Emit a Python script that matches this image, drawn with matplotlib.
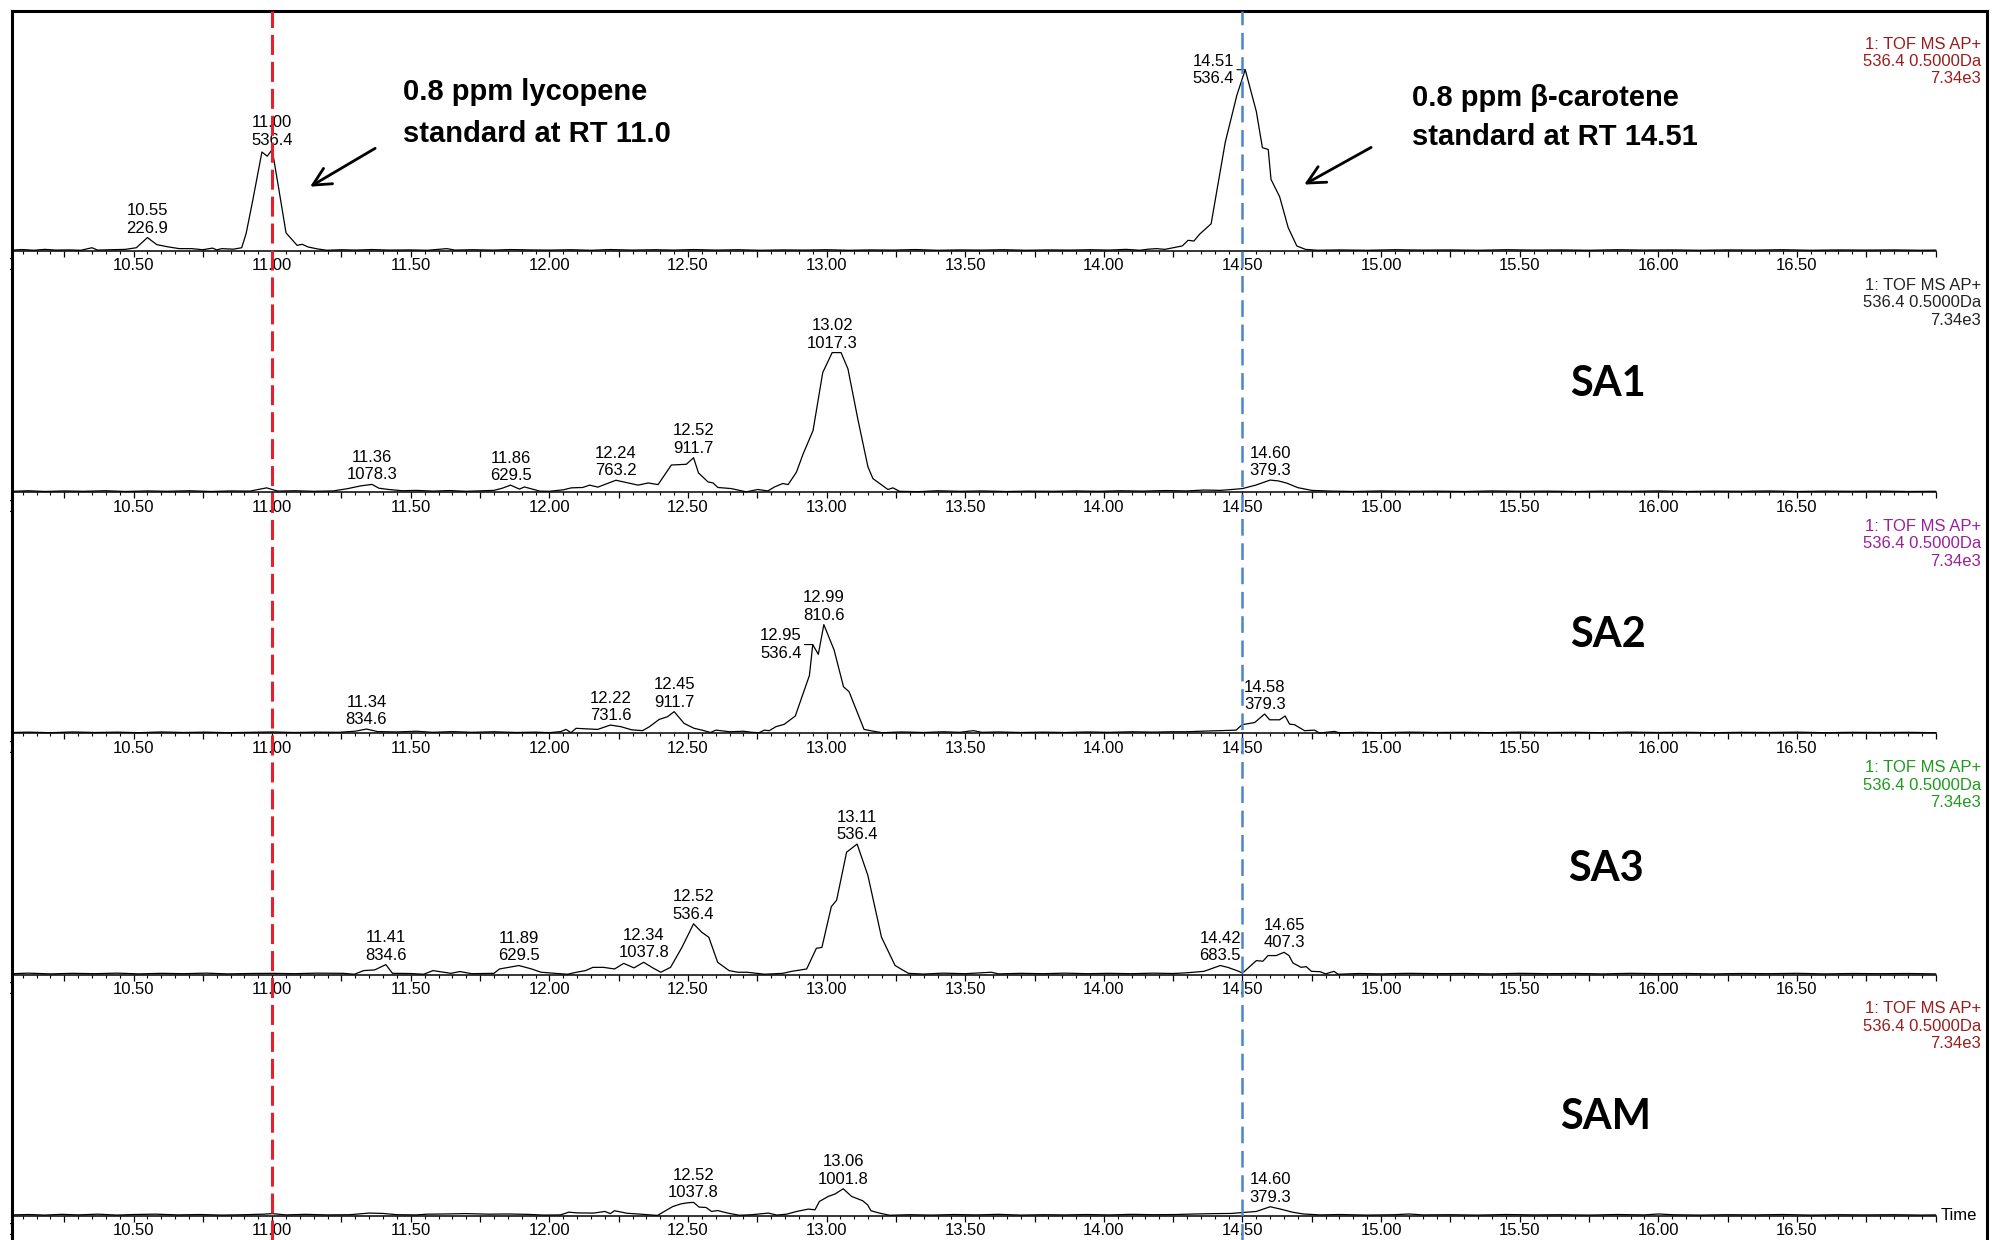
import numpy as np
import matplotlib
matplotlib.use('Agg')
import matplotlib.pyplot as plt
from matplotlib.lines import Line2D
from matplotlib.ticker import MultipleLocator, FuncFormatter
from matplotlib.transforms import Bbox, TransformedBbox

plt.rcParams['font.family'] = ['Liberation Sans', 'DejaVu Sans']
plt.rcParams['lines.scale_dashes'] = False

# extracted ion chromatograms, m/z 536.4 ± 0.5 Da
# retention time (min) and intensity (% of 7.34e3)
rt_std = [10.064, 10.10, 10.14, 10.18, 10.22, 10.27, 10.31, 10.35, 10.37, 10.42,
          10.47, 10.51, 10.55, 10.584, 10.62, 10.665, 10.71, 10.75, 10.785, 10.80,
          10.818, 10.86, 10.89, 10.906, 10.93, 10.963, 10.982, 11.00, 11.023, 11.05,
          11.09, 11.108, 11.13, 11.165, 11.197, 11.25, 11.30, 11.36, 11.42, 11.50,
          11.56, 11.63, 11.66, 11.72, 11.80, 11.86, 11.93, 12.00, 12.08, 12.15,
          12.22, 12.30, 12.38, 12.45, 12.52, 12.60, 12.68, 12.76, 12.84, 12.92,
          13.00, 13.08, 13.16, 13.24, 13.32, 13.40, 13.48, 13.56, 13.64, 13.72,
          13.80, 13.88, 13.95, 14.02, 14.08, 14.13, 14.16, 14.19, 14.22, 14.25,
          14.283, 14.304, 14.325, 14.345, 14.387, 14.438, 14.48, 14.51, 14.55, 14.572,
          14.593, 14.603, 14.634, 14.665, 14.696, 14.727, 14.77, 14.85, 14.95, 15.05,
          15.15, 15.25, 15.35, 15.45, 15.55, 15.65, 15.75, 15.85, 15.95, 16.05,
          16.15, 16.25, 16.35, 16.45, 16.55, 16.65, 16.75, 16.85, 16.95, 17.00]
int_std = [0.5, 0.8, 0.4, 0.9, 0.5, 0.6, 0.4, 1.8, 0.5, 0.7,
           0.9, 1.8, 7.4, 3.5, 2.4, 1.3, 1.3, 0.7, 1.6, 0.6,
           1.3, 1.0, 1.8, 9.6, 28.0, 54.6, 52.3, 55.9, 35.0, 10.0,
           3.1, 3.7, 2.2, 1.1, 0.4, 0.7, 0.5, 0.8, 0.5, 0.6,
           0.4, 1.3, 0.5, 0.7, 0.5, 0.8, 0.6, 0.5, 0.7, 0.4,
           0.8, 0.5, 0.7, 0.5, 0.8, 0.5, 0.7, 0.4, 0.6, 0.5,
           0.7, 0.4, 0.6, 0.5, 0.8, 0.4, 0.6, 0.5, 0.7, 0.4,
           0.6, 0.5, 0.7, 0.5, 0.9, 0.4, 1.0, 1.3, 0.9, 1.8,
           2.8, 5.9, 5.5, 9.2, 15.0, 60.0, 86.0, 100.0, 77.0, 57.0,
           56.0, 39.5, 30.0, 12.9, 2.8, 0.9, 0.4, 0.6, 0.4, 0.7,
           0.5, 0.6, 0.4, 0.7, 0.5, 0.6, 0.4, 0.7, 0.5, 0.6,
           0.4, 0.6, 0.5, 0.7, 0.4, 0.6, 0.5, 0.6, 0.4, 0.5]

rt_sa1 = [10.064, 10.12, 10.18, 10.25, 10.32, 10.40, 10.47, 10.55, 10.62, 10.70,
          10.78, 10.85, 10.92, 10.98, 11.02, 11.08, 11.15, 11.22, 11.27, 11.32,
          11.36, 11.385, 11.42, 11.47, 11.52, 11.58, 11.64, 11.70, 11.76, 11.80,
          11.83, 11.86, 11.892, 11.91, 11.965, 12.00, 12.05, 12.079, 12.12, 12.145,
          12.175, 12.24, 12.32, 12.356, 12.392, 12.44, 12.494, 12.52, 12.538, 12.572,
          12.59, 12.608, 12.656, 12.692, 12.71, 12.752, 12.788, 12.812, 12.842, 12.861,
          12.891, 12.915, 12.951, 12.986, 13.02, 13.052, 13.077, 13.113, 13.149, 13.167,
          13.221, 13.239, 13.263, 13.33, 13.40, 13.48, 13.56, 13.65, 13.73, 13.82,
          13.90, 13.98, 14.06, 14.14, 14.22, 14.30, 14.36, 14.42, 14.47, 14.50,
          14.55, 14.60, 14.63, 14.66, 14.70, 14.75, 14.82, 14.90, 15.00, 15.10,
          15.20, 15.30, 15.40, 15.50, 15.60, 15.70, 15.80, 15.90, 16.00, 16.10,
          16.20, 16.30, 16.40, 16.50, 16.60, 16.70, 16.80, 16.90, 17.00]
int_sa1 = [0.5, 0.8, 0.4, 0.7, 0.5, 0.8, 0.4, 0.7, 0.5, 0.8,
           0.4, 0.7, 0.6, 2.4, 0.6, 0.8, 0.5, 0.7, 1.9, 3.5,
           4.3, 2.2, 1.5, 0.8, 1.0, 0.6, 0.9, 0.5, 0.8, 1.0,
           2.2, 3.9, 1.7, 2.9, 0.6, 0.5, 1.3, 2.4, 2.6, 3.9,
           2.8, 6.6, 3.9, 5.1, 4.2, 15.0, 15.4, 19.0, 10.6, 5.7,
           5.1, 2.6, 2.0, 0.8, 0.2, 1.5, 0.7, 2.9, 4.8, 4.2,
           11.0, 21.0, 34.0, 66.0, 77.0, 77.0, 68.0, 40.0, 14.0, 7.5,
           1.5, 2.4, 0.5, 0.3, 0.8, 0.5, 0.7, 0.4, 0.6, 0.5,
           0.7, 0.5, 0.8, 0.6, 0.9, 0.7, 1.2, 1.0, 1.6, 2.0,
           4.0, 6.7, 6.2, 5.0, 2.5, 1.0, 0.6, 0.4, 0.7, 0.5,
           0.6, 0.4, 0.7, 0.5, 0.6, 0.4, 0.6, 0.5, 0.7, 0.4,
           0.6, 0.5, 0.7, 0.4, 0.6, 0.5, 0.6, 0.4, 0.5]

rt_sa2 = [10.064, 10.12, 10.20, 10.28, 10.36, 10.44, 10.52, 10.60, 10.68, 10.76,
          10.84, 10.92, 11.00, 11.08, 11.16, 11.24, 11.30, 11.34, 11.38, 11.45,
          11.52, 11.58, 11.65, 11.72, 11.80, 11.88, 11.95, 12.00, 12.041, 12.06,
          12.078, 12.096, 12.174, 12.22, 12.258, 12.296, 12.336, 12.361, 12.396, 12.426,
          12.45, 12.486, 12.522, 12.551, 12.581, 12.601, 12.651, 12.70, 12.73, 12.757,
          12.775, 12.793, 12.817, 12.847, 12.887, 12.938, 12.95, 12.97, 12.99, 13.027,
          13.061, 13.081, 13.135, 13.165, 13.20, 13.27, 13.35, 13.42, 13.48, 13.53,
          13.56, 13.62, 13.70, 13.78, 13.86, 13.94, 14.02, 14.10, 14.18, 14.24,
          14.297, 14.35, 14.417, 14.477, 14.499, 14.544, 14.58, 14.598, 14.634, 14.654,
          14.67, 14.688, 14.724, 14.76, 14.778, 14.832, 14.85, 14.92, 15.00, 15.10,
          15.20, 15.30, 15.40, 15.50, 15.60, 15.70, 15.80, 15.90, 16.00, 16.10,
          16.20, 16.30, 16.40, 16.50, 16.60, 16.70, 16.80, 16.90, 17.00]
int_sa2 = [0.5, 0.7, 0.4, 0.8, 0.5, 0.7, 0.4, 0.8, 0.5, 0.7,
           0.4, 0.6, 0.8, 0.5, 0.7, 0.6, 1.2, 2.4, 1.0, 0.8,
           1.2, 0.6, 1.0, 0.6, 0.9, 0.5, 0.7, 0.4, 1.0, 2.2,
           0.4, 2.8, 2.2, 4.6, 3.7, 2.0, 1.5, 3.7, 7.7, 9.2,
           12.0, 5.5, 2.8, 1.8, 0.5, 1.8, 0.9, 1.2, 0.6, 0.4,
           1.8, 1.5, 3.7, 5.0, 9.6, 32.0, 49.0, 43.6, 60.0, 46.0,
           25.7, 23.0, 2.2, 1.3, 0.4, 0.8, 0.5, 0.9, 0.6, 1.5,
           0.6, 0.8, 0.5, 0.7, 0.5, 0.8, 0.6, 0.9, 0.7, 0.9,
           0.9, 1.2, 1.5, 1.8, 4.8, 6.0, 10.7, 7.5, 7.5, 9.6,
           5.1, 4.8, 1.5, 1.8, 0.2, 1.1, 0.3, 0.6, 0.4, 0.7,
           0.5, 0.6, 0.4, 0.7, 0.5, 0.6, 0.4, 0.7, 0.5, 0.6,
           0.4, 0.6, 0.5, 0.7, 0.4, 0.6, 0.5, 0.6, 0.4]

rt_sa3 = [10.064, 10.12, 10.20, 10.28, 10.36, 10.44, 10.52, 10.60, 10.68, 10.76,
          10.84, 10.92, 11.00, 11.08, 11.16, 11.256, 11.297, 11.33, 11.37, 11.41,
          11.434, 11.50, 11.547, 11.58, 11.645, 11.677, 11.72, 11.80, 11.82, 11.89,
          11.936, 11.97, 12.03, 12.065, 12.098, 12.13, 12.157, 12.195, 12.235, 12.268,
          12.305, 12.34, 12.373, 12.402, 12.437, 12.478, 12.52, 12.55, 12.575, 12.607,
          12.648, 12.68, 12.713, 12.777, 12.842, 12.874, 12.928, 12.963, 12.983, 13.017,
          13.036, 13.072, 13.11, 13.149, 13.198, 13.247, 13.295, 13.35, 13.42, 13.50,
          13.594, 13.62, 13.70, 13.78, 13.86, 13.94, 14.02, 14.10, 14.18, 14.25,
          14.30, 14.361, 14.42, 14.447, 14.487, 14.50, 14.55, 14.574, 14.592, 14.622,
          14.65, 14.668, 14.682, 14.712, 14.73, 14.749, 14.78, 14.80, 14.83, 14.845,
          14.92, 15.00, 15.10, 15.20, 15.30, 15.40, 15.50, 15.60, 15.70, 15.80,
          15.90, 16.00, 16.10, 16.20, 16.30, 16.40, 16.50, 16.60, 16.70, 16.80,
          16.90, 17.00]
int_sa3 = [0.5, 0.8, 0.4, 0.7, 0.5, 0.8, 0.4, 0.7, 0.5, 0.8,
           0.4, 0.6, 0.7, 0.5, 0.8, 0.7, 0.2, 2.2, 2.6, 5.5,
           0.7, 0.6, 0.2, 2.2, 0.7, 1.7, 0.5, 0.7, 3.1, 5.0,
           3.1, 1.3, 0.6, 0.2, 1.3, 2.2, 4.0, 4.0, 3.1, 6.2,
           3.7, 6.8, 3.7, 1.3, 4.0, 15.0, 28.0, 23.3, 20.6, 6.8,
           2.2, 1.3, 1.3, 0.2, 0.7, 1.8, 3.1, 14.5, 15.0, 37.5,
           41.0, 67.5, 72.0, 54.6, 20.6, 5.0, 0.7, 0.3, 0.8, 0.5,
           1.3, 0.4, 0.7, 0.5, 0.8, 0.5, 0.7, 0.5, 0.8, 0.6,
           1.0, 1.8, 5.0, 4.0, 1.8, 0.8, 7.7, 7.4, 10.5, 10.5,
           12.3, 10.5, 6.4, 4.0, 4.4, 1.8, 1.6, 0.4, 1.8, 0.2,
           0.6, 0.4, 0.7, 0.5, 0.6, 0.4, 0.7, 0.5, 0.6, 0.4,
           0.7, 0.5, 0.6, 0.4, 0.6, 0.5, 0.7, 0.4, 0.6, 0.5,
           0.6, 0.4]

rt_sam = [10.064, 10.12, 10.18, 10.24, 10.30, 10.37, 10.44, 10.50, 10.58, 10.66,
          10.74, 10.82, 10.90, 10.97, 11.00, 11.05, 11.12, 11.20, 11.28, 11.35,
          11.40, 11.45, 11.52, 11.56, 11.62, 11.70, 11.78, 11.85, 11.92, 11.98,
          12.04, 12.07, 12.10, 12.16, 12.20, 12.22, 12.235, 12.28, 12.32, 12.39,
          12.42, 12.445, 12.475, 12.50, 12.52, 12.54, 12.565, 12.585, 12.607, 12.643,
          12.685, 12.73, 12.79, 12.82, 12.856, 12.892, 12.934, 12.958, 12.974, 13.006,
          13.03, 13.06, 13.09, 13.13, 13.148, 13.16, 13.19, 13.227, 13.30, 13.38,
          13.46, 13.54, 13.62, 13.70, 13.78, 13.86, 13.94, 14.02, 14.10, 14.18,
          14.26, 14.33, 14.40, 14.46, 14.50, 14.55, 14.60, 14.64, 14.68, 14.72,
          14.78, 14.85, 14.95, 15.05, 15.10, 15.15, 15.25, 15.35, 15.45, 15.55,
          15.65, 15.75, 15.85, 15.95, 16.00, 16.05, 16.15, 16.25, 16.35, 16.45,
          16.55, 16.65, 16.75, 16.85, 16.95, 17.00]
int_sam = [0.5, 0.7, 0.4, 0.8, 0.5, 0.9, 0.4, 0.7, 0.9, 0.5,
           0.7, 0.4, 0.6, 0.9, 1.2, 0.5, 0.8, 0.5, 0.6, 1.5,
           1.3, 0.6, 0.5, 0.9, 1.0, 1.2, 0.9, 1.0, 0.8, 0.4,
           0.5, 2.0, 1.6, 1.5, 2.4, 1.2, 2.8, 1.4, 1.0, 0.2,
           2.9, 5.1, 6.6, 7.2, 7.4, 4.8, 4.6, 2.4, 2.9, 1.5,
           0.3, 0.6, 1.5, 0.4, 0.9, 2.4, 3.7, 3.3, 7.9, 10.7,
           12.0, 14.9, 10.7, 8.3, 6.0, 2.8, 1.5, 0.3, 0.6, 0.4,
           0.7, 0.5, 0.8, 0.4, 0.6, 0.5, 0.7, 0.5, 0.8, 0.6,
           0.7, 1.0, 1.2, 1.3, 1.8, 2.4, 5.0, 3.6, 2.0, 1.0,
           0.5, 0.7, 0.4, 0.6, 1.0, 0.5, 0.6, 0.4, 0.7, 0.5,
           0.6, 0.4, 0.7, 0.5, 1.0, 0.6, 0.4, 0.6, 0.5, 0.7,
           0.4, 0.6, 0.5, 0.6, 0.4, 0.5]

# peak annotations: retention time and the value printed below it
labels_std = [(10.55, '226.9'), (11.00, '536.4'), (14.51, '536.4')]
labels_sa1 = [(11.36, '1078.3'), (11.86, '629.5'), (12.24, '763.2'),
              (12.52, '911.7'), (13.02, '1017.3'), (14.60, '379.3')]
labels_sa2 = [(11.34, '834.6'), (12.22, '731.6'), (12.45, '911.7'),
              (12.95, '536.4'), (12.99, '810.6'), (14.58, '379.3')]
labels_sa3 = [(11.41, '834.6'), (11.89, '629.5'), (12.34, '1037.8'),
              (12.52, '536.4'), (13.11, '536.4'), (14.42, '683.5'), (14.65, '407.3')]
labels_sam = [(12.52, '1037.8'), (13.06, '1001.8'), (14.60, '379.3')]

sample_names = ['', 'SA1', 'SA2', 'SA3', 'SAM']
header = '1: TOF MS AP+\n536.4 0.5000Da\n7.34e3'
header_colors = ['#9b1c1c', '#222222', '#9a1f9a', '#1f9a1f', '#9b1c1c']

traces = [(rt_std, int_std), (rt_sa1, int_sa1), (rt_sa2, int_sa2),
          (rt_sa3, int_sa3), (rt_sam, int_sam)]
peak_labels = [labels_std, labels_sa1, labels_sa2, labels_sa3, labels_sam]
# labels drawn beside the peak with a short leader instead of on top
side_labels = {(0, 14.51), (2, 12.95)}

W, H = 2002, 1240
fig = plt.figure(figsize=(W / 100, H / 100), dpi=100)

x_left, x_right = 12.7, 1935.5
t_min, t_max = 10.064, 17.0
px_per_pct = 1.813
ax_h = 205
fs = 12
name_pos = [None, (15.82, 59.9), (15.82, 54.0), (15.81, 58.5), (15.81, 54.6)]

# anything left of the frame line is hidden
frame_clip = TransformedBbox(Bbox([[10.0 / W, 0], [1, 1]]), fig.transFigure)


def rt_fmt(v, pos):
    if v < 16.9 and abs(v * 2 - round(v * 2)) < 1e-6:
        return '%.2f' % v
    return ''


axes = []
for k, (t, y) in enumerate(traces):
    base = 251 + 241.2 * k
    ax = fig.add_axes([x_left / W, 1 - base / H, (x_right - x_left) / W, ax_h / H])
    ax.patch.set_alpha(0)
    ax.plot(t, y, color='black', lw=0.9, zorder=3, clip_on=False)
    ax.set_xlim(t_min, t_max)
    ax.set_ylim(0, ax_h / px_per_pct)
    for s in ['top', 'left', 'right']:
        ax.spines[s].set_visible(False)
    ax.spines['bottom'].set_linewidth(1.1)
    ax.set_yticks([])
    ax.xaxis.set_major_locator(MultipleLocator(0.25))
    ax.xaxis.set_minor_locator(MultipleLocator(0.05))
    ax.xaxis.set_major_formatter(FuncFormatter(rt_fmt))
    ax.tick_params(axis='x', which='major', length=4.3, width=0.9, pad=1.0,
                   labelsize=fs, direction='out')
    ax.tick_params(axis='x', which='minor', length=2.4, width=0.8, direction='out')
    # the 10.00 label sits mostly behind the frame
    lab0 = ax.annotate('10.00', xy=(10.0, 0), xycoords=('data', 'axes fraction'),
                       xytext=(0, -5.3), textcoords='offset points', ha='center',
                       va='top', fontsize=fs, annotation_clip=False)
    lab0.set_clip_on(True)
    lab0.set_clip_box(frame_clip)

    for rt, val in peak_labels[k]:
        h = np.interp(rt, t, y)
        txt = '%.2f\n%s' % (rt, val)
        if (k, rt) in side_labels:
            ax.annotate(txt, xy=(rt, h), xytext=(-8, 0), textcoords='offset points',
                        ha='right', va='center', fontsize=fs,
                        arrowprops=dict(arrowstyle='-', lw=0.8, color='black',
                                        shrinkA=0, shrinkB=0, relpos=(1, 0.5)))
        else:
            ax.annotate(txt, xy=(rt, h), xytext=(0, 1.5), textcoords='offset points',
                        ha='center', va='bottom', fontsize=fs)

    fig.text(1981 / W, 1 - (base - 189.5) / H, header, ha='right', va='center',
             color=header_colors[k], fontsize=fs, multialignment='right')

    if sample_names[k]:
        nx, ny = name_pos[k]
        ax.text(nx, ny, sample_names[k], ha='center', va='center', fontsize=30,
                fontweight='bold', family=['Lato', 'DejaVu Sans'])
    axes.append(ax)

axes[-1].annotate('Time', xy=(1.0, 0), xycoords='axes fraction', xytext=(4, 0),
                  textcoords='offset points', ha='left', va='center', fontsize=fs)

# standards: callouts
top = axes[0]
top.annotate('', xy=(11.128, 34.7), xytext=(11.38, 57.4),
             arrowprops=dict(arrowstyle='->', lw=2.0, color='black', mutation_scale=32))
top.annotate('', xy=(14.714, 35.9), xytext=(14.973, 57.9),
             arrowprops=dict(arrowstyle='->', lw=2.0, color='black', mutation_scale=32))
top.text(11.472, 76.1, '0.8 ppm lycopene\nstandard at RT 11.0', ha='left', va='center',
         fontsize=21, fontweight='bold', linespacing=1.62)
top.text(15.11, 73.6, '0.8 ppm \u03b2-carotene\nstandard at RT 14.51', ha='left',
         va='center', fontsize=21, fontweight='bold', linespacing=1.5)

# retention time markers across all traces
ov = fig.add_axes([x_left / W, 0, (x_right - x_left) / W, 1 - 10.5 / H])
ov.set_xlim(t_min, t_max)
ov.set_ylim(0, 1)
ov.axis('off')
ov.set_zorder(10)
ov.axvline(11.0, color='#e8202a', lw=2.2, dashes=(14.4, 5.0))
ov.axvline(14.5, color='#4a86c8', lw=1.8, dashes=(12.0, 5.5))

# outer frame
frame_kw = dict(color='black', lw=2.2, transform=fig.transFigure)
fig.add_artist(Line2D([11.5 / W, 1987 / W], [1 - 10.5 / H, 1 - 10.5 / H], **frame_kw))
fig.add_artist(Line2D([11.5 / W, 11.5 / W], [0, 1 - 10.5 / H], **frame_kw))
fig.add_artist(Line2D([1987 / W, 1987 / W], [0, 1 - 10.5 / H], **frame_kw))

fig.savefig('out.png', dpi=100)
